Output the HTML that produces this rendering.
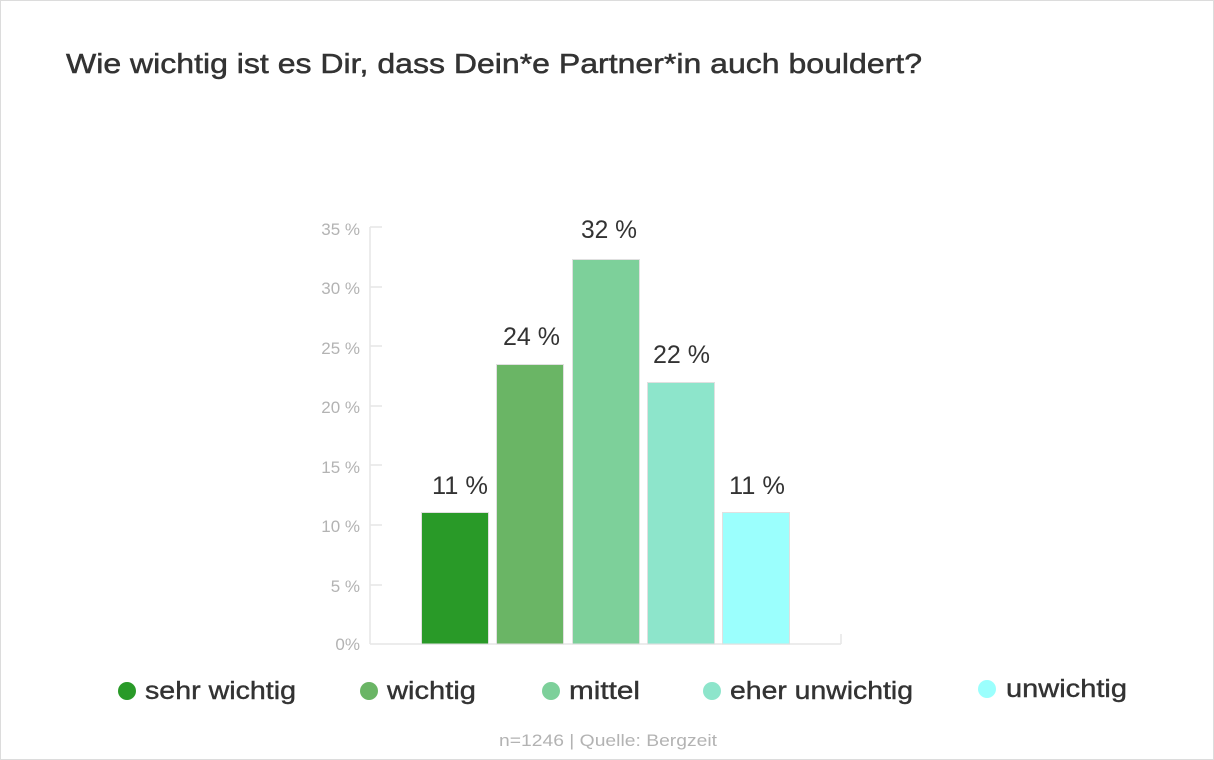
<!DOCTYPE html>
<html><head><meta charset="utf-8"><style>
html,body{margin:0;padding:0;background:#fff}
body{width:1214px;height:760px;position:relative;font-family:"Liberation Sans",sans-serif;overflow:hidden}
.frame{position:absolute;left:0;top:0;width:1212px;height:758px;border:1px solid #dcdcdc}
</style></head><body>
<div class="frame"></div>
<svg width="1214" height="760" style="position:absolute;left:0;top:0" font-family="Liberation Sans, sans-serif">
<text x="66" y="73" font-size="28" fill="#333" stroke="#333" stroke-width="0.5" textLength="856" lengthAdjust="spacingAndGlyphs">Wie wichtig ist es Dir, dass Dein*e Partner*in auch bouldert?</text>
<g stroke="#e6e6e6" stroke-width="1.5">
<line x1="370" y1="227" x2="370" y2="644"/>
<line x1="370" y1="644" x2="841" y2="644"/>
<line x1="841" y1="634" x2="841" y2="644"/>
<line x1="370" y1="227" x2="382" y2="227"/>
<line x1="370" y1="287" x2="382" y2="287"/>
<line x1="370" y1="346" x2="382" y2="346"/>
<line x1="370" y1="406" x2="382" y2="406"/>
<line x1="370" y1="465" x2="382" y2="465"/>
<line x1="370" y1="525" x2="382" y2="525"/>
<line x1="370" y1="585" x2="382" y2="585"/>
</g>
<g font-size="17" fill="#b3b3b3" text-anchor="end">
<text x="360" y="235">35 %</text>
<text x="360" y="294">30 %</text>
<text x="360" y="354">25 %</text>
<text x="360" y="413">20 %</text>
<text x="360" y="473">15 %</text>
<text x="360" y="532">10 %</text>
<text x="360" y="592">5 %</text>
<text x="360" y="650">0%</text>
</g>
<g stroke="#e0e0e0" stroke-width="1">
<rect x="421.5" y="512.5" width="67" height="131.5" fill="#299a28"/>
<rect x="496.5" y="364.5" width="67" height="279.5" fill="#6ab565"/>
<rect x="572.5" y="259.5" width="67" height="384.5" fill="#7dd09a"/>
<rect x="647.5" y="382.5" width="67" height="261.5" fill="#8de5cb"/>
<rect x="722.5" y="512.5" width="67" height="131.5" fill="#9bfffd"/>
</g>
<g font-size="25" fill="#333">
<text x="432" y="494" textLength="56" lengthAdjust="spacingAndGlyphs">11 %</text>
<text x="503" y="345" textLength="57" lengthAdjust="spacingAndGlyphs">24 %</text>
<text x="581" y="238" textLength="56" lengthAdjust="spacingAndGlyphs">32 %</text>
<text x="653" y="363" textLength="57" lengthAdjust="spacingAndGlyphs">22 %</text>
<text x="729" y="494" textLength="56" lengthAdjust="spacingAndGlyphs">11 %</text>
</g>
<g font-size="25" fill="#333" stroke="#333" stroke-width="0.4">
<circle cx="127" cy="691" r="9" fill="#299a28" stroke="none"/><text x="145" y="699" textLength="151" lengthAdjust="spacingAndGlyphs">sehr wichtig</text>
<circle cx="369" cy="691" r="9" fill="#6ab565" stroke="none"/><text x="387" y="699" textLength="89" lengthAdjust="spacingAndGlyphs">wichtig</text>
<circle cx="551" cy="691" r="9" fill="#7dd09a" stroke="none"/><text x="569" y="699" textLength="71" lengthAdjust="spacingAndGlyphs">mittel</text>
<circle cx="712" cy="691" r="9" fill="#8de5cb" stroke="none"/><text x="730" y="699" textLength="183" lengthAdjust="spacingAndGlyphs">eher unwichtig</text>
<circle cx="987" cy="689" r="9" fill="#9bfffd" stroke="none"/><text x="1006" y="697" textLength="121" lengthAdjust="spacingAndGlyphs">unwichtig</text>
</g>
<text x="499" y="746" font-size="17" fill="#b3b3b3" textLength="218" lengthAdjust="spacingAndGlyphs">n=1246 | Quelle: Bergzeit</text>
</svg>
</body></html>
